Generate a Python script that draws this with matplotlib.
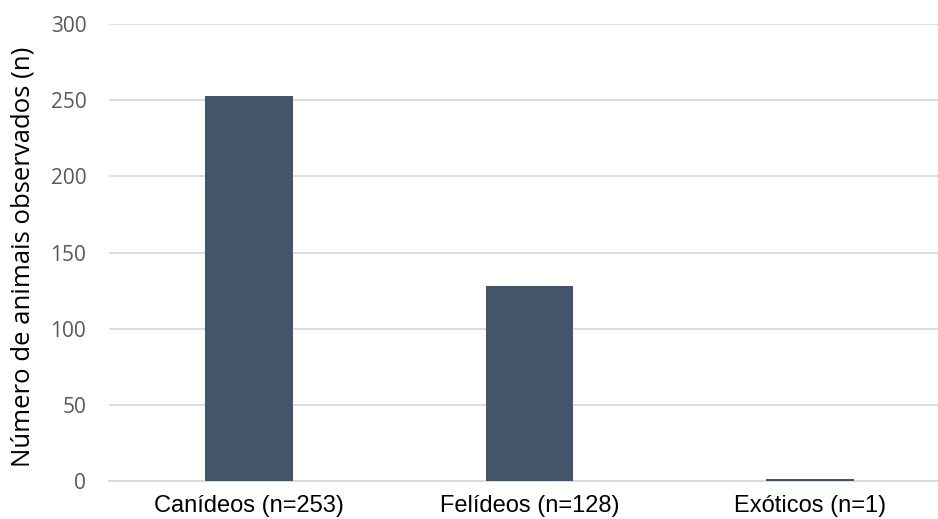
import matplotlib
matplotlib.use("Agg")
import matplotlib.pyplot as plt

categories = ["Canídeos (n=253)", "Felídeos (n=128)", "Exóticos (n=1)"]
counts = [253, 128, 1]
y_ticks = [0, 50, 100, 150, 200, 250, 300]

BAR_COLOR = "#44546A"
GRID_COLOR = "#D9D9D9"
TEXT_COLOR = "#595959"

fig = plt.figure(figsize=(9.38, 5.19), dpi=100)
ax = fig.add_axes([0.1157, 0.0732, 0.8977, 0.8805])

x = range(len(categories))
ax.bar(x, counts, width=0.313, color=BAR_COLOR, zorder=3)

ax.set_xlim(-0.5, len(categories) - 0.5)
ax.set_ylim(0, 300)
ax.set_yticks(y_ticks)
ax.set_xticks(list(x))
ax.set_xticklabels(categories, fontfamily="Liberation Sans", fontsize=17, color="#000000")
ax.set_yticklabels([str(v) for v in y_ticks], fontfamily="Open Sans", fontsize=15, color=TEXT_COLOR)

ax.grid(axis="y", color=GRID_COLOR, linewidth=1.3, zorder=0)
for side in ["top", "right", "left"]:
    ax.spines[side].set_visible(False)
ax.spines["bottom"].set_color(GRID_COLOR)
ax.spines["bottom"].set_linewidth(1.3)
ax.tick_params(axis="both", length=0)
ax.tick_params(axis="y", pad=16)
ax.tick_params(axis="x", pad=10)

ax.set_ylabel("Número de animais observados (n)", fontfamily="Open Sans",
              fontsize=18.5, color="#000000")
ax.yaxis.set_label_coords(-0.087, 0.49)

fig.savefig("out.png", dpi=100)
